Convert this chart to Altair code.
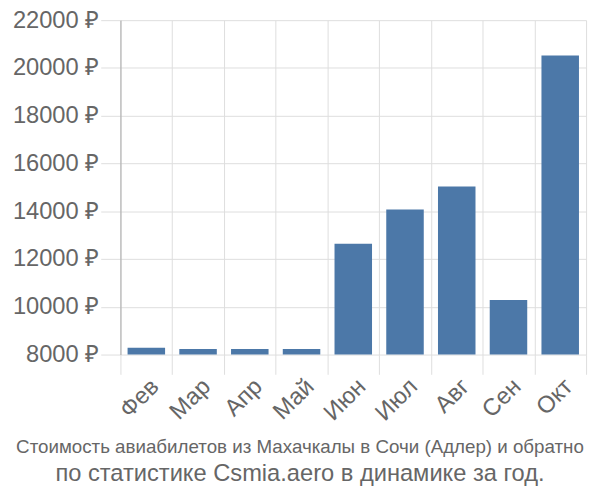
import altair as alt
import pandas as pd

months = ["Фев", "Мар", "Апр", "Май", "Июн", "Июл", "Авг", "Сен", "Окт"]
prices = [8290, 8230, 8230, 8230, 12640, 14070, 15040, 10280, 20520]
base_value = 8000

df = pd.DataFrame({"month": months, "price": prices})

chart = alt.Chart(df).mark_bar(
    width=alt.RelativeBandSize(0.725), color="#4c78a8"
).encode(
    x=alt.X("month:N", sort=months, title=None,
            scale=alt.Scale(paddingInner=0, paddingOuter=0),
            axis=alt.Axis(tickBand="extent", labelAngle=-45, labelFontSize=24,
                          labelColor="#666666", labelFont="Liberation Sans",
                          tickSize=20, tickColor="#dddddd", gridColor="#dddddd",
                          domain=False, grid=True, labelPadding=0)),
    y=alt.Y("price:Q", title=None,
            scale=alt.Scale(domain=[8000, 22000], zero=False, nice=False),
            axis=alt.Axis(values=list(range(8000, 22001, 2000)),
                          labelExpr="datum.value + ' ₽'",
                          labelFontSize=24, labelColor="#666666",
                          labelFont="Liberation Sans",
                          tickSize=20, tickColor="#dddddd", gridColor="#dddddd",
                          domainColor="#aaaaaa", labelPadding=2)),
    y2=alt.datum(base_value),
).properties(
    width=472, height=339,
    padding={"left": 114, "top": 9, "right": 6, "bottom": 136},
    autosize=alt.AutoSizeParams(type="none"),
    title=alt.TitleParams(
        text="Стоимость авиабилетов из Махачкалы в Сочи (Адлер) и обратно",
        subtitle="по статистике Csmia.aero в динамике за год.",
        orient="bottom", anchor="middle", font="Liberation Sans",
        fontSize=19, fontWeight="normal", color="#666666",
        subtitleFont="Liberation Sans", subtitleFontSize=24,
        subtitleColor="#666666", offset=13, subtitlePadding=6, dx=-54,
    ),
).configure_view(stroke=None)

chart.save("out.html", embed_options={"renderer": "svg", "actions": False})
